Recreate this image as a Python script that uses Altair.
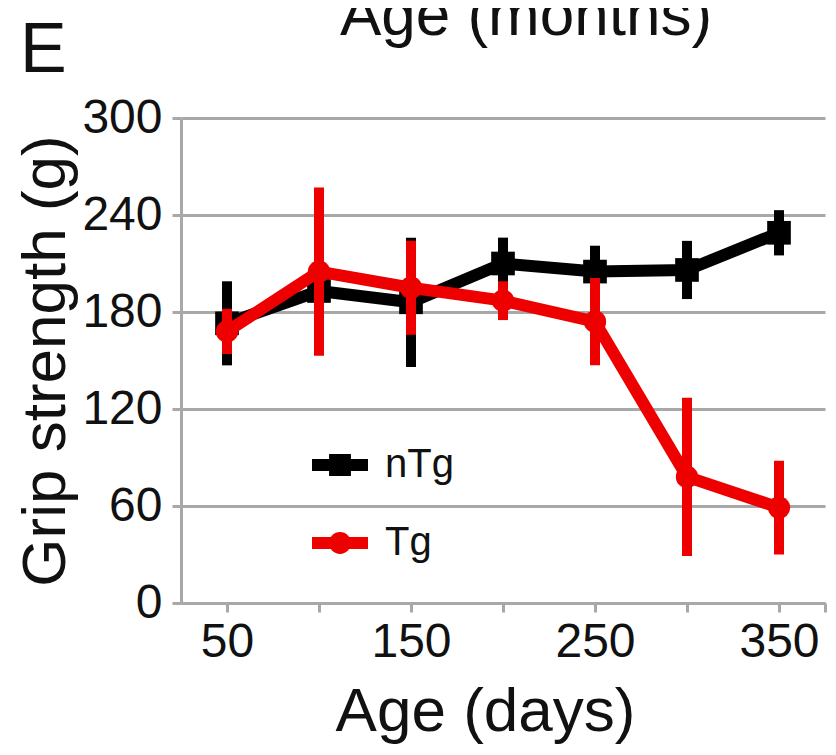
import altair as alt
import pandas as pd

ages = [50, 100, 150, 200, 250, 300, 350]
ntg_mean = [173, 193, 186, 210, 205, 206, 229]
ntg_err = [26, 12, 40, 16, 16, 18, 14]
tg_mean = [168, 205, 195, 187, 174, 78, 59]
tg_err = [14, 52, 29, 12, 27, 49, 29]
series_names = ["nTg", "Tg"]
x_ticks = [50, 100, 150, 200, 250, 300, 350, 375]
x_labels_shown = [50, 150, 250, 350]
y_ticks = [0, 60, 120, 180, 240, 300]

rows = []
for s, means, errs in [("nTg", ntg_mean, ntg_err), ("Tg", tg_mean, tg_err)]:
    for a, m, e in zip(ages, means, errs):
        rows.append({"series": s, "age": a, "mean": m, "lo": m - e, "hi": m + e})
df = pd.DataFrame(rows)

FONT = "Liberation Sans"
BLACK = "#000000"
RED = "#ee0000"
GRID = "#a8a8a8"

shown = ",".join(str(v) for v in x_labels_shown)
x_axis = alt.Axis(values=x_ticks, title="Age (days)",
                  labelExpr=f"indexof([{shown}], datum.value) >= 0 ? datum.label : ''",
                  grid=False, labelFlush=False, labelOverlap=False, labelPadding=6,
                  titlePadding=15, titleX=304, titleAnchor="middle")
y_axis = alt.Axis(values=y_ticks, title="Grip strength (g)", grid=True,
                  labelFlush=False, labelOverlap=False, labelPadding=10, titlePadding=4)

xs = alt.Scale(domain=[25, 375], nice=False, zero=False)
ys = alt.Scale(domain=[0, 300], nice=False)

X = alt.X("age:Q", scale=xs, axis=x_axis)
Y = alt.Y("mean:Q", scale=ys, axis=y_axis)
YLO = alt.Y("lo:Q", scale=ys, axis=y_axis)

base = alt.Chart(df)

sq_path = "M-1,-0.21H-0.39V-0.39H0.39V-0.21H1V0.21H0.39V0.39H-0.39V0.21H-1Z"
circ_path = "M-1,-0.21H1V0.21H-1Z M0.39,0A0.39,0.39,0,1,1,-0.39,0A0.39,0.39,0,1,1,0.39,0Z"

leg = dict(orient="none", legendX=131, legendY=319, title=None, labelFont=FONT,
           labelFontSize=40, labelColor="#111", symbolSize=3136, rowPadding=30,
           labelOffset=17, padding=0, symbolOpacity=1, symbolStrokeWidth=0)

legend_layer = base.mark_point(filled=True, opacity=0).encode(
    x=X, y=Y,
    color=alt.Color("series:N", scale=alt.Scale(domain=series_names, range=[BLACK, RED]),
                    legend=alt.Legend(**leg)),
    shape=alt.Shape("series:N", scale=alt.Scale(domain=series_names, range=[sq_path, circ_path]),
                    legend=alt.Legend(**leg)),
)

def series_layers(name, color, marker):
    b = base.transform_filter(alt.datum.series == name)
    rules = b.mark_rule(color=color, strokeWidth=10).encode(x=X, y=YLO, y2="hi:Q")
    line = b.mark_line(color=color, strokeWidth=12, strokeJoin="round").encode(x=X, y=Y)
    if marker == "square":
        pts = b.mark_square(color=color, size=560, opacity=1).encode(x=X, y=Y)
    else:
        pts = b.mark_circle(color=color, size=500, opacity=1).encode(x=X, y=Y)
    return [rules, line, pts]

e_text = alt.Chart(pd.DataFrame({"label": ["E"]})).mark_text(
    font=FONT, fontSize=70, align="left", baseline="alphabetic", color="#111"
).encode(x=alt.value(-161), y=alt.value(-46), text="label:N")

top_text = alt.Chart(pd.DataFrame({"label": ["Age (months)"]})).mark_text(
    font=FONT, fontSize=62, align="center", baseline="alphabetic", color="#111"
).encode(x=alt.value(345), y=alt.value(-83), text="label:N")

chart = alt.layer(
    legend_layer,
    *series_layers("nTg", BLACK, "square"),
    *series_layers("Tg", RED, "circle"),
    e_text, top_text,
).properties(
    width=644, height=485,
    autosize=alt.AutoSizeParams(type="none"),
    padding={"left": 173, "top": 110, "right": 3, "bottom": 145},
).configure_view(stroke=None).configure_axis(
    domainColor=GRID, domainWidth=3, tickColor=GRID, tickWidth=3, tickSize=9,
    gridColor=GRID, gridWidth=3, labelFont=FONT, labelFontSize=48, labelColor="#111",
    titleFont=FONT, titleFontSize=62, titleFontWeight="normal", titleColor="#111",
)

chart.save("out.html", embed_options={"renderer": "svg", "actions": False})
